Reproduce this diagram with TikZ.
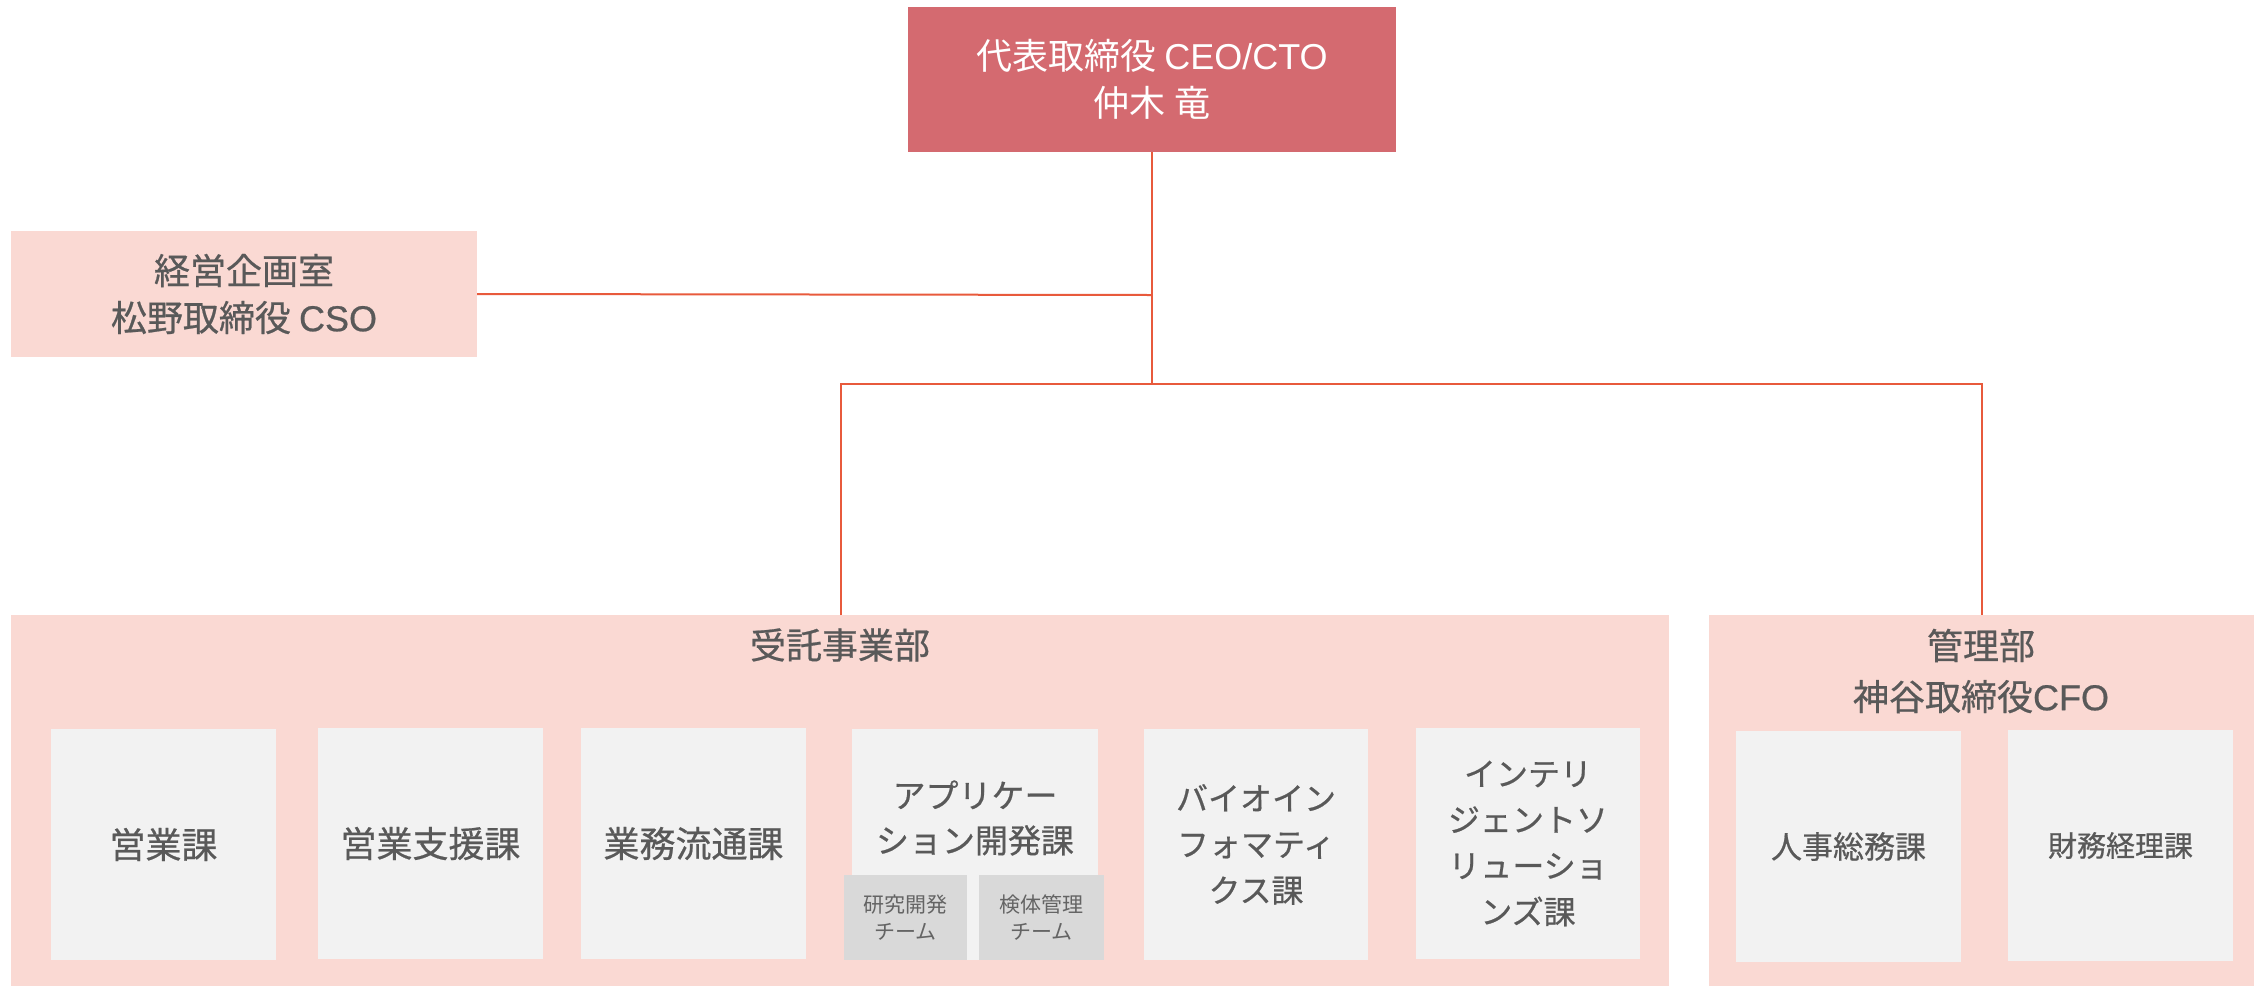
\documentclass[tikz,border=0pt]{standalone}
\usepackage{fontspec}
\setmainfont{Noto Sans CJK JP}
\newfontfamily\gfont{Noto Sans CJK JP}[FakeBold=0.6]
\newfontfamily\latg{Liberation Sans}[FakeBold=0.6]
\newfontfamily\latw{Liberation Sans}
\definecolor{ceored}{RGB}{212,106,112}
\definecolor{pinkbg}{RGB}{250,217,211}
\definecolor{secgray}{RGB}{242,242,242}
\definecolor{teamgray}{RGB}{217,217,217}
\definecolor{linecol}{RGB}{232,90,60}
\definecolor{txtgray}{RGB}{89,89,89}
\newcommand\orgbox[7]{\node[#6, minimum width={(#4-#2)*0.5pt}, minimum height={(#5-#3)*0.5pt}, anchor=north west] (#1) at (#2,#3) {#7};}
\begin{document}
\begin{tikzpicture}[x=0.5pt,y=-0.5pt,
  base/.style={rectangle, inner sep=0pt, outer sep=0pt, align=center, text=txtgray},
  ceobox/.style={base, fill=ceored, text=white, font=\fontsize{18}{23.5}\selectfont},
  pinkbox/.style={base, fill=pinkbg, font=\gfont\fontsize{18}{23.5}\selectfont},
  secbox/.style={base, fill=secgray, font=\gfont\fontsize{18}{23}\selectfont},
  kanabox/.style={base, fill=secgray, font=\gfont\fontsize{16}{23}\selectfont},
  teambox/.style={base, fill=teamgray, text={rgb,255:red,100;green,100;blue,100}, font=\fontsize{10.5}{13.5}\selectfont},
  title/.style={base, font=\gfont\fontsize{18}{25.5}\selectfont},
  conn/.style={draw=linecol, line width=1pt}]
\useasboundingbox (0,0) rectangle (2254,986);
% top
\orgbox{ceo}{908}{7}{1396}{152}{ceobox}{代表取締役 {\latw CEO/CTO}\\仲木 竜}
\orgbox{cso}{11}{231}{477}{357}{pinkbox}{経営企画室\\松野取締役 {\latg CSO}}
% departments
\orgbox{jutaku}{11}{615}{1669}{986}{base, fill=pinkbg}{}
\orgbox{kanri}{1709}{615}{2254}{986}{base, fill=pinkbg}{}
\node[title] (jutakut) at (840,645) {受託事業部};
\node[title] (kanrit) at (1981,671) {管理部\\神谷取締役{\latg CFO}};
% sections
\orgbox{eigyo}{51}{729}{276}{960}{secbox}{営業課}
\orgbox{shien}{318}{728}{543}{959}{secbox}{営業支援課}
\orgbox{ryutsu}{581}{728}{806}{959}{secbox}{業務流通課}
\orgbox{app}{852}{729}{1098}{960}{base, fill=secgray}{}
\node[base, font=\gfont\fontsize{16.5}{22.5}\selectfont] (appt) at (975,818) {アプリケー\\ション開発課};
\orgbox{team1}{844}{875}{967}{960}{teambox}{研究開発\\チーム}
\orgbox{team2}{979}{875}{1104}{960}{teambox}{検体管理\\チーム}
\orgbox{bio}{1144}{729}{1368}{960}{kanabox}{バイオイン\\フォマティ\\クス課}
\orgbox{intel}{1416}{728}{1640}{959}{kanabox}{インテリ\\ジェントソ\\リューショ\\ンズ課}
\orgbox{jinji}{1736}{731}{1961}{962}{base, fill=secgray, font=\gfont\fontsize{15.5}{20}\selectfont}{人事総務課}
\orgbox{zaimu}{2008}{730}{2233}{961}{base, fill=secgray, font=\gfont\fontsize{14.5}{20}\selectfont}{財務経理課}
% connectors
\coordinate (j1) at (ceo.south |- 0,295);
\coordinate (j2) at (ceo.south |- 0,384);
\draw[conn] (ceo.south) -- (j2);
\draw[conn] (cso.east) -- (j1);
\draw[conn] (jutaku.north -| 841,0) -- (841,384) -- (1982,384) -- (kanri.north -| 1982,0);
\end{tikzpicture}
\end{document}
